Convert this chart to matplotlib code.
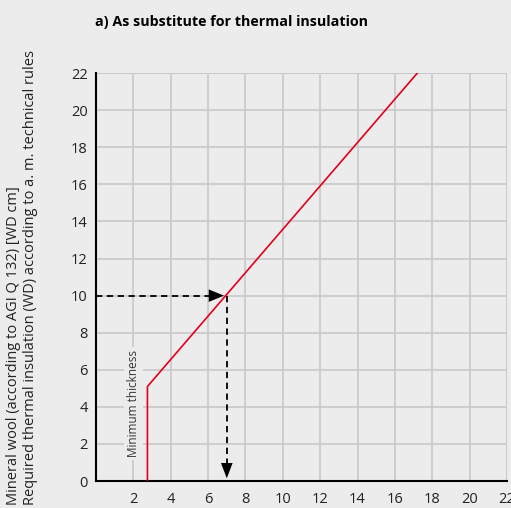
import numpy as np
import matplotlib.pyplot as plt

# 最小厚さの縦線 + 必要断熱に対応する直線
curve_x = [2.75, 2.75, 17.2]
curve_y = [0.0, 5.1, 22.0]
# 読み取り例 (WD=10 -> 7)
read_x = 7.0
read_y = 10.0

x_ticks = list(range(2, 23, 2))
y_ticks = list(range(0, 23, 2))

bg = "#ececec"
grid_c = "#c8c8c8"

plt.rcParams["font.family"] = ["Open Sans", "DejaVu Sans"]

fig = plt.figure(figsize=(5.11, 5.08), dpi=100, facecolor=bg)
ax = fig.add_axes([0.188, 0.053, 0.804, 0.803])
ax.set_facecolor(bg)

ax.set_xlim(0, 22)
ax.set_ylim(0, 22)
ax.set_xticks(x_ticks)
ax.set_yticks(y_ticks)
ax.tick_params(length=0, labelsize=10.5, colors="#222222", pad=6)
ax.tick_params(axis="x", pad=8)
ax.grid(True, color=grid_c, linewidth=1.2)
ax.set_axisbelow(True)
for side in ["top", "right"]:
    ax.spines[side].set_visible(False)
for side in ["left", "bottom"]:
    ax.spines[side].set_color("black")
    ax.spines[side].set_linewidth(1.5)

# 右端・上端のグリッド線
ax.axhline(22, color=grid_c, linewidth=1.2, zorder=0.5)
ax.axvline(22, color=grid_c, linewidth=1.2, zorder=0.5)

ax.text(2.0, 4.2, "Minimum thickness", rotation=90, ha="center", va="center",
        fontsize=8.5, color="#333333",
        bbox=dict(facecolor=bg, edgecolor="none", pad=2))

ax.plot(curve_x, curve_y, color="#e2001a", linewidth=1.2, zorder=3)

# 破線の矢印
ax.plot([0, read_x - 0.5], [read_y, read_y], color="black", linestyle=(0, (3.5, 2.5)), linewidth=1.3, zorder=4)
ax.plot([read_x, read_x], [read_y, 0.6], color="black", linestyle=(0, (3.5, 2.5)), linewidth=1.3, zorder=4)
ax.annotate("", xy=(read_x, read_y), xytext=(read_x - 0.95, read_y),
            arrowprops=dict(arrowstyle="-|>,head_length=1.1,head_width=0.45", color="black", lw=0),
            zorder=5)
ax.annotate("", xy=(read_x, 0), xytext=(read_x, 1.0),
            arrowprops=dict(arrowstyle="-|>,head_length=1.1,head_width=0.42", color="black", lw=0),
            zorder=5)

fig.text(0.186, 0.957, "a) As substitute for thermal insulation", fontsize=10.3,
         fontweight="bold", ha="left", va="center", color="black")

fig.text(0.012, 0.005,
         "Mineral wool (according to AGI Q 132) [WD cm]\n"
         "Required thermal insulation (WD) according to a. m. technical rules",
         rotation=90, ha="left", va="bottom", multialignment="left",
         fontsize=10.5, color="#222222", linespacing=1.15)

plt.savefig("out.png", dpi=100, facecolor=bg)
